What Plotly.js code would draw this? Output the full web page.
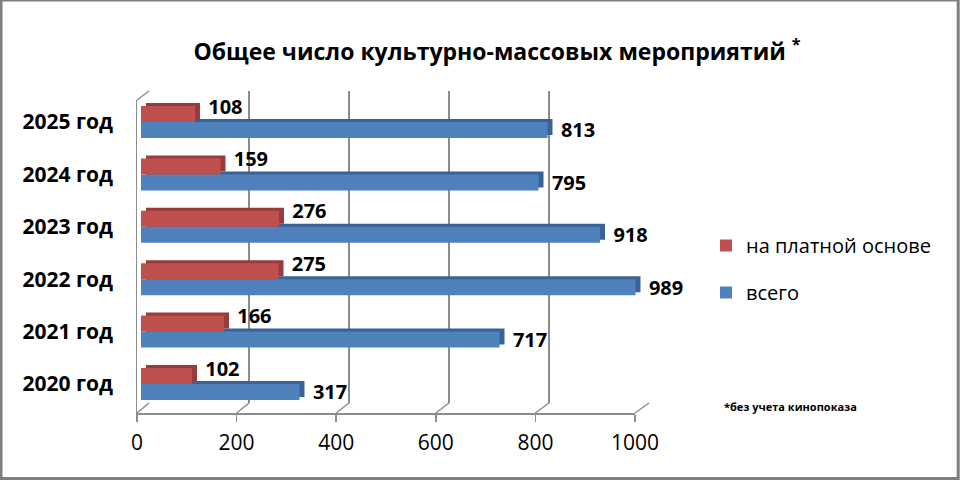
<!DOCTYPE html>
<html>
<head>
<meta charset="utf-8">
<script src="https://cdn.plot.ly/plotly-3.0.1.min.js"></script>
<style>html,body{margin:0;padding:0;background:#fff}#chart{width:960px;height:480px}</style>
</head>
<body>
<div id="chart"></div>
<script>
// ---- data ----
const categories = ['2020 год','2021 год','2022 год','2023 год','2024 год','2025 год'];
const paidValues = [102, 166, 275, 276, 159, 108];
const totalValues = [317, 717, 989, 918, 795, 813];
const xTickValues = [0, 200, 400, 600, 800, 1000];
const seriesNames = ['на платной основе', 'всего'];
const titleText = 'Общее число культурно-массовых мероприятий';
const noteText = '*без учета кинопоказа';

// ---- helpers ----
const W = 960, H = 480;
const px = v => v / W;
const py = v => 1 - v / H;

const RED = '#C0504D', RED_DARK = '#983b3a';
const BLUE = '#4F81BD', BLUE_DARK = '#3a6296';
const GRID = '#8c8c8c';
const FONT = 'Open Sans';
const NB = '\u00a0';
const valueFont = {family: FONT, size: 20, weight: 700, color: '#000'};

const traces = [
  // wall subplot helper (gridlines)
  {type: 'scatter', x: [], y: [], xaxis: 'x', yaxis: 'y', showlegend: false, hoverinfo: 'skip'},
  // back extrusion (3D depth)
  {type: 'bar', orientation: 'h', y: categories, x: totalValues, xaxis: 'x2', yaxis: 'y2',
   marker: {color: BLUE_DARK}, showlegend: false, hoverinfo: 'skip'},
  {type: 'bar', orientation: 'h', y: categories, x: paidValues, xaxis: 'x2', yaxis: 'y2',
   marker: {color: RED_DARK}, showlegend: false, hoverinfo: 'skip'},
  // front faces
  {type: 'bar', orientation: 'h', name: seriesNames[1], y: categories, x: totalValues, xaxis: 'x3', yaxis: 'y3',
   marker: {color: BLUE}, legendrank: 2, legendgroup: 'b',
   text: totalValues.map(v => NB + NB + v), textposition: 'outside', cliponaxis: false, constraintext: 'none',
   textfont: valueFont},
  {type: 'bar', orientation: 'h', name: seriesNames[0], y: categories, x: paidValues, xaxis: 'x3', yaxis: 'y3',
   marker: {color: RED}, legendrank: 1, legendgroup: 'a'},
  // floor axis helper
  {type: 'scatter', x: [], y: [], xaxis: 'x4', yaxis: 'y4', showlegend: false, hoverinfo: 'skip'},
  // label carrier for the paid-series values (transparent, raised a little as in the reference)
  {type: 'bar', orientation: 'h', y: categories, x: totalValues, xaxis: 'x5', yaxis: 'y5',
   marker: {color: 'rgba(0,0,0,0)'}, showlegend: false, hoverinfo: 'skip'},
  {type: 'bar', orientation: 'h', y: categories, x: paidValues, xaxis: 'x5', yaxis: 'y5',
   marker: {color: 'rgba(0,0,0,0)'}, showlegend: false, hoverinfo: 'skip',
   text: paidValues.map(v => NB + v), textposition: 'outside', cliponaxis: false, constraintext: 'none',
   textfont: valueFont}
];

// decorative 3D frame lines: floor diagonals at ticks, top-left wall edge, outer border
const frontX0 = 137, frontX1 = 635, backX0 = 149, backX1 = 649;
const floorFront = 413, floorBack = 403;
const shapes = xTickValues.map(v => ({
  type: 'line', xref: 'paper', yref: 'paper',
  x0: px(frontX0 + (frontX1 - frontX0) * v / 1000), y0: py(floorFront),
  x1: px(backX0 + (backX1 - backX0) * v / 1000), y1: py(floorBack),
  line: {color: GRID, width: 1.5}
}));
shapes.push({type: 'line', xref: 'paper', yref: 'paper', x0: px(137), y0: py(100), x1: px(149), y1: py(91),
  line: {color: GRID, width: 1.5}});
shapes.push({type: 'rect', xref: 'paper', yref: 'paper', x0: px(1), y0: py(478.5), x1: px(958.2), y1: py(0),
  line: {color: '#7f7f7f', width: 3}, layer: 'above'});

const catAxis = {type: 'category', categoryorder: 'array', categoryarray: categories, range: [-0.5, 5.5]};

const layout = {
  width: W, height: H, autosize: false,
  margin: {l: 0, r: 0, t: 0, b: 0},
  paper_bgcolor: '#fff', plot_bgcolor: 'rgba(0,0,0,0)',
  font: {family: FONT, color: '#000'},
  hovermode: false,
  barmode: 'group', bargap: 0.39, bargroupgap: 0,
  title: {text: titleText + ' <sup>*</sup>', x: px(497), xanchor: 'center', y: py(52), yanchor: 'middle',
          font: {family: FONT, size: 23, weight: 700, color: '#000'}},
  xaxis: {domain: [px(149), px(649)], range: [0, 1000], tickvals: xTickValues, showgrid: true,
          gridcolor: GRID, gridwidth: 1.5, showticklabels: false, zeroline: false, showline: false,
          ticks: '', anchor: 'y', fixedrange: true},
  yaxis: {domain: [py(403), py(91)], range: [0, 1], showgrid: false, showticklabels: false,
          zeroline: false, showline: false, ticks: '', anchor: 'x', fixedrange: true},
  xaxis2: {domain: [px(146), px(646)], range: [0, 1000], visible: false, anchor: 'y2', fixedrange: true},
  yaxis2: Object.assign({domain: [py(407.2), py(92.8)], visible: false, anchor: 'x2', fixedrange: true}, catAxis),
  xaxis3: {domain: [px(141), px(641)], range: [0, 1000], visible: false, anchor: 'y3', fixedrange: true},
  yaxis3: Object.assign({domain: [py(410.2), py(95.8)], showgrid: false, zeroline: false, showline: false, ticks: '',
           ticklabelstandoff: 27, tickfont: {family: FONT, size: 21, weight: 700, color: '#000'},
           anchor: 'x3', fixedrange: true}, catAxis),
  xaxis4: {domain: [px(137), px(635)], range: [0, 1000], tickvals: xTickValues, ticks: 'outside', ticklen: 7,
           tickcolor: GRID, tickwidth: 1.5, showline: true, linecolor: GRID, linewidth: 1.5,
           showgrid: false, zeroline: false, ticklabelstandoff: 3,
           tickfont: {family: FONT, size: 21, color: '#000'}, anchor: 'y4', fixedrange: true},
  yaxis4: {domain: [py(413), py(100)], range: [0, 1], showline: true, linecolor: GRID, linewidth: 1.5,
           showgrid: false, zeroline: false, showticklabels: false, ticks: '', anchor: 'x4', fixedrange: true},
  xaxis5: {domain: [px(146), px(646)], range: [0, 1000], visible: false, anchor: 'y5', fixedrange: true},
  yaxis5: Object.assign({domain: [py(402.2), py(87.8)], visible: false, anchor: 'x5', fixedrange: true}, catAxis),
  legend: {x: px(706), y: py(226), xanchor: 'left', yanchor: 'top', traceorder: 'grouped',
           tracegroupgap: 18, font: {family: FONT, size: 20, color: '#000'}, bgcolor: 'rgba(0,0,0,0)'},
  annotations: [{text: noteText, xref: 'paper', yref: 'paper', x: px(722), y: py(406), xanchor: 'left',
                 yanchor: 'middle', showarrow: false, font: {family: FONT, size: 11, weight: 700, color: '#000'}}],
  shapes: shapes
};

Plotly.newPlot('chart', traces, layout, {displayModeBar: false, staticPlot: true});
</script>
</body>
</html>
